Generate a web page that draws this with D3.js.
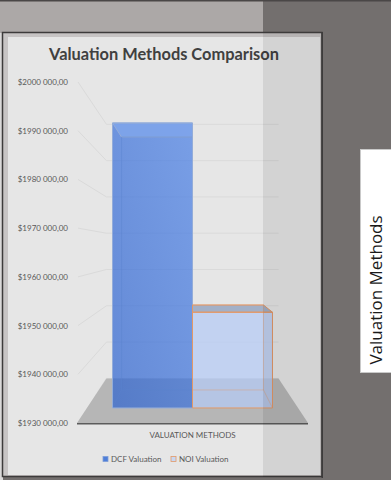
<!DOCTYPE html>
<html><head><meta charset="utf-8">
<script src="https://cdn.jsdelivr.net/npm/d3@7"></script>
<style>html,body{margin:0;padding:0;background:#736f6e;}svg{display:block;}</style>
</head><body><div id="chart"></div>
<script>
// ---- data ----
const categories = ["VALUATION METHODS"];
const seriesNames = ["DCF Valuation", "NOI Valuation"];
const dcfValues = [1994000];
const noiValues = [1951500];
const yTickValues = [1930000, 1940000, 1950000, 1960000, 1970000, 1980000, 1990000, 2000000];
const chartTitle = "Valuation Methods Comparison";
const sideLabel = "Valuation Methods";

const W = 391, H = 480;
const svg = d3.select("#chart").append("svg").attr("width", W).attr("height", H);

// background (spreadsheet window)
svg.append("rect").attr("x",0).attr("y",0).attr("width",W).attr("height",H).attr("fill","#736f6e");
svg.append("rect").attr("x",0).attr("y",0).attr("width",263).attr("height",33).attr("fill","#aca8a7");
svg.append("rect").attr("x",0).attr("y",0).attr("width",W).attr("height",1.5).attr("fill","#4a4747");
svg.append("rect").attr("x",0).attr("y",33).attr("width",3).attr("height",H-33).attr("fill","#dad9d9");

// chart frame
svg.append("rect").attr("x",2.5).attr("y",32.5).attr("width",319.5).attr("height",444)
  .attr("fill","#c7c4c4").attr("stroke","#3d3b3b").attr("stroke-width",1.5);
svg.append("rect").attr("x",8).attr("y",37).attr("width",312).attr("height",438).attr("fill","#e6e6e6");

const fmt = d3.formatLocale({decimal: ",", thousands: " ", grouping: [3, 4], currency: ["$", ""]}).format("$,.2f");

const y = d3.scaleLinear().domain([yTickValues[0], yTickValues[yTickValues.length-1]]).range([423, 82]);
const x0 = d3.scaleBand().domain(categories).range([77, 308]);
const x1 = d3.scaleBand().domain(seriesNames).range([0, x0.bandwidth()]).paddingInner(0).paddingOuter(0.32);
const depth = d3.scaleLinear().domain([0, 1]).range([1, 0.745]); // perspective shrink factor
const cx = x0(categories[0]) + x0.bandwidth() / 2, cy = 248;
const P = (x, yy, k) => [cx + (x - cx) * k, cy + (yy - cy) * k];
const line = d3.line();

const kBack = depth(1);
const xL = x0.range()[0], xR = x0.range()[1];
const yBase = y(yTickValues[0]);

// gridlines (side wall + back wall)
const grid = svg.append("g").attr("fill","none").attr("stroke","#dadada").attr("stroke-width",1);
yTickValues.forEach(v => {
  grid.append("path").attr("d", line([P(xL+1, y(v), 1), P(xL, y(v), kBack), P(xR, y(v), kBack)]));
});

// floor
svg.append("path").attr("d", line([P(xL,yBase,1), P(xR,yBase,1), P(xR,yBase,kBack), P(xL,yBase,kBack)]) + "Z")
  .attr("fill","#b6b6b6");
svg.append("path").attr("d", line([P(xL,yBase+0.8,1), P(xR,yBase+0.8,1)])).attr("stroke","#5c5c5c").attr("stroke-width",1.6);

// gradient for DCF
const defs = svg.append("defs");
const g1 = defs.append("linearGradient").attr("id","gDcf").attr("x1","0").attr("y1","1").attr("x2","1").attr("y2","0");
g1.append("stop").attr("offset","0").attr("stop-color","#2c62cf");
g1.append("stop").attr("offset","1").attr("stop-color","#4a80e6");

const styles = {
  "DCF Valuation": {front:"url(#gDcf)", op:0.7, top:"#7ea4ea", topOp:0.9, edge:"#93acd9", inner:"#5a82cc"},
  "NOI Valuation": {front:"#b4cbf5", op:0.72, top:"#a3b0c7", topOp:1, edge:"#e39866", inner:"#e39866"}
};
const valuesBySeries = {"DCF Valuation": dcfValues, "NOI Valuation": noiValues};
const kf = depth(0.337), kb = depth(0.741);

categories.forEach((cat, ci) => {
  seriesNames.forEach(s => {
    const v = valuesBySeries[s][ci];
    const st = styles[s];
    const xa = x0(cat) + x1(s), xb = xa + x1.bandwidth();
    const yt = y(v), yb = yBase;
    const g = svg.append("g");
    const front = [P(xa,yt,kf), P(xb,yt,kf), P(xb,yb,kf), P(xa,yb,kf)];
    const top = [P(xa,yt,kf), P(xb,yt,kf), P(xb,yt,kb), P(xa,yt,kb)];
    g.append("path").attr("d", line(front)+"Z").attr("fill", st.front).attr("fill-opacity", st.op);
    g.append("path").attr("d", line(top)+"Z").attr("fill", st.top).attr("fill-opacity", st.topOp)
      .attr("stroke", st.edge).attr("stroke-width", 1);
    // back edges
    const back = [P(xa,yt,kb), P(xb,yt,kb), P(xb,yb,kb), P(xa,yb,kb)];
    const inner = g.append("g").attr("fill","none").attr("stroke", st.inner).attr("stroke-opacity",0.5).attr("stroke-width",0.8);
    inner.append("path").attr("d", line(back)+"Z");
    inner.append("path").attr("d", line([P(xa,yb,kf), P(xa,yb,kb)]));
    inner.append("path").attr("d", line([P(xb,yb,kf), P(xb,yb,kb)]));
    g.append("path").attr("d", line(front)+"Z").attr("fill","none").attr("stroke", st.edge).attr("stroke-width",1);
  });
});

// y axis labels
const yAxis = svg.append("g").attr("transform","translate(72,0)")
  .call(d3.axisLeft(y).tickValues(yTickValues).tickFormat(fmt).tickSize(0).tickPadding(4));
yAxis.select(".domain").remove();
yAxis.selectAll("text").attr("font-family","Lato, 'Open Sans', sans-serif").attr("font-size","8px").attr("fill","#595959");

// x axis label
const xAxis = svg.append("g").attr("transform",`translate(0,${yBase})`)
  .call(d3.axisBottom(x0).tickSize(0).tickPadding(9));
xAxis.select(".domain").remove();
xAxis.selectAll("text").attr("font-family","Lato, 'Open Sans', sans-serif").attr("font-size","8px").attr("fill","#595959");

// title
svg.append("text").attr("x",164).attr("y",60).attr("text-anchor","middle")
  .attr("font-family","Lato, 'Open Sans', sans-serif").attr("font-weight","bold").attr("font-size","16.4px")
  .attr("fill","#404040").text(chartTitle);

// legend
const legend = svg.append("g");
const legX = [103, 171];
seriesNames.forEach((s, i) => {
  legend.append("rect").attr("x", legX[i]).attr("y", 456.5).attr("width", 5).attr("height", 5)
    .attr("fill", i === 0 ? "#4f7fd9" : "#c8d8f3").attr("stroke", i === 0 ? "#7f9fd8" : "#e39866").attr("stroke-width", 0.8);
  legend.append("text").attr("x", legX[i] + 8).attr("y", 462)
    .attr("font-family","Lato, 'Open Sans', sans-serif").attr("font-size","8px").attr("fill","#595959").text(s);
});

// darker overlay on right part of chart
svg.append("rect").attr("x",263).attr("y",33).attr("width",59).attr("height",444).attr("fill","#000").attr("fill-opacity",0.083);
svg.append("rect").attr("x",321.5).attr("y",32).attr("width",1.5).attr("height",446).attr("fill","#3d3b3b");

// side label box
svg.append("rect").attr("x",360.5).attr("y",149.5).attr("width",32).attr("height",223)
  .attr("fill","#ffffff").attr("stroke","#c9c9c9").attr("stroke-width",1);
svg.append("text").attr("transform","translate(382,290) rotate(-90)").attr("text-anchor","middle")
  .attr("font-family","'Open Sans', Lato, sans-serif").attr("font-size","17px").attr("fill","#1a1a1a").text(sideLabel);
</script>
</body></html>
